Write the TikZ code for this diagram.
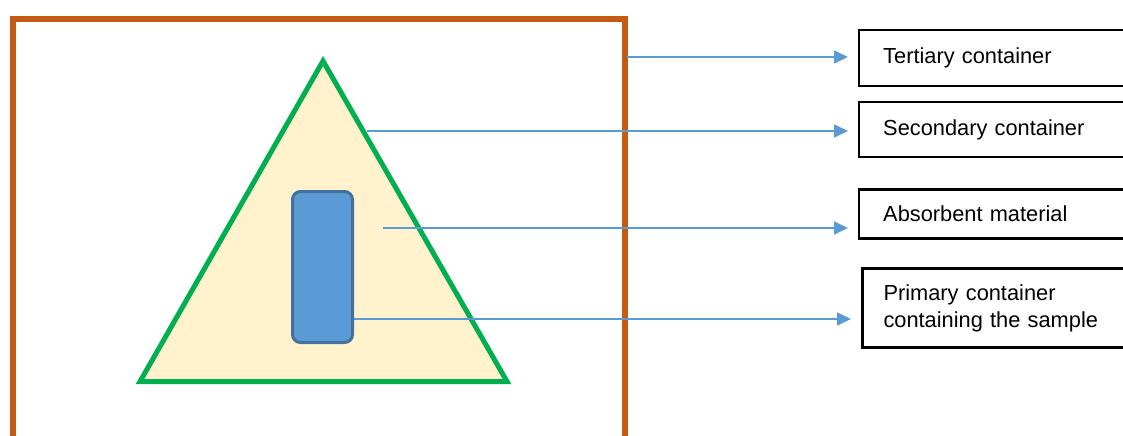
\documentclass[tikz,border=0pt]{standalone}
\usepackage{fontspec}
\setmainfont{Liberation Sans}
\usetikzlibrary{arrows.meta}
\begin{document}
\begin{tikzpicture}[x=.5pt,y=-.5pt,line join=miter]
	\definecolor{rust}{RGB}{197,90,17}
	\definecolor{leafgreen}{RGB}{0,176,80}
	\definecolor{cream}{RGB}{255,242,204}
	\definecolor{skyblue}{RGB}{91,155,213}
	\definecolor{steelblue}{RGB}{65,113,156}
	%\draw (0,0) rectangle (1123,435);
	\useasboundingbox (0,0) rectangle (1123,435);
	\clip (0,0) rectangle (1123,435);
	
	\tikzset{
		label box/.style={draw=black,line width=1.2pt,anchor=west,align=left,
			text width=150pt,inner xsep=12pt,
			font=\fontsize{10.9}{13.5}\selectfont},
		pointer/.style={skyblue,line width=.8pt,shorten >=5pt,
			-{Triangle[length=7pt,width=6.5pt]}}
	}
	
	% tertiary container
	\draw[rust,line width=3pt] (12.5,18.5) rectangle (625,445);
	% secondary container
	\draw[leafgreen,fill=cream,line width=2.5pt] (323,61)--(507,381.5)--(140,381.5)--cycle;
	% primary container
	\draw[steelblue,fill=skyblue,line width=1.5pt,rounded corners=4pt]
	(292.5,191.5) rectangle (352.5,342.5);
	
	\node[label box,minimum height=28pt] (tertiary) at (858,58) {Tertiary container};
	\node[label box,minimum height=27.5pt] (secondary) at (858,129.5) {Secondary container};
	\node[label box,minimum height=24.5pt] (absorbent) at (858,214) {Absorbent material};
	\node[label box,minimum height=39.5pt,line width=1.5pt,inner xsep=10.5pt] (primary) at (861,308)
	{Primary container\\containing the sample};
	
	\path
	(627,57) coordinate (tertiary-pt)
	(367,131) coordinate (secondary-pt)
	(383,228) coordinate (absorbent-pt)
	(354,319) coordinate (primary-pt);
	
	\foreach \n in {tertiary,secondary,absorbent,primary}{
		\draw[pointer] (\n-pt) -- (\n-pt -| \n.west);
	}
\end{tikzpicture}
\end{document}
